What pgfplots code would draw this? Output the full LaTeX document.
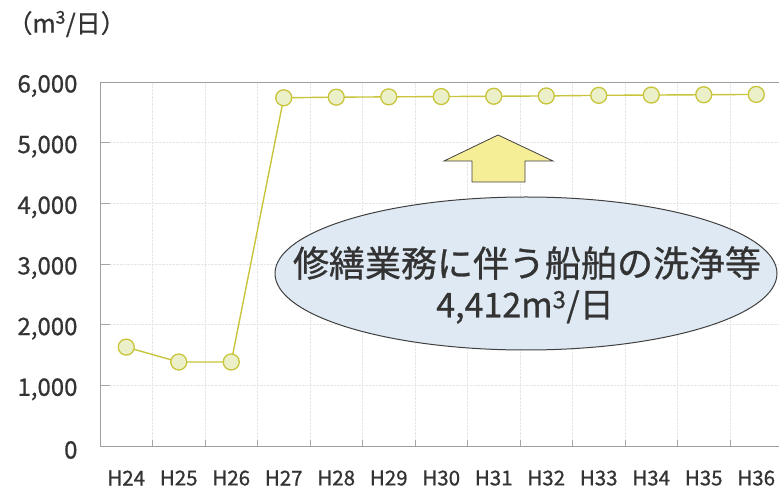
\documentclass[border=0pt]{standalone}
\usepackage{pgfplots}
\pgfplotsset{compat=1.18}
\usepackage{fontspec}
\setmainfont{Noto Sans CJK JP}
\newfontfamily\bfk{Noto Sans CJK JP}[FakeBold=0.8]
\definecolor{lineol}{RGB}{200,196,60}
\definecolor{mfill}{RGB}{236,240,200}
\definecolor{ellfill}{RGB}{222,233,243}
\definecolor{arrfill}{RGB}{246,238,150}
\begin{document}
\begin{tikzpicture}[x=1pt,y=1pt]
\useasboundingbox (0,0) rectangle (779,490);
\begin{axis}[
  at={(100pt,44pt)}, anchor=south west, scale only axis,
  width=682.5pt, height=364pt,
  xmin=-0.5, xmax=12.5, ymin=0, ymax=6000,
  axis line style={gray!75, line width=0.6pt},
  xtick={0,...,12},
  xticklabels={H24,H25,H26,H27,H28,H29,H30,H31,H32,H33,H34,H35,H36},
  major x tick style={draw=none},
  minor xtick={-0.5,0.5,1.5,2.5,3.5,4.5,5.5,6.5,7.5,8.5,9.5,10.5,11.5,12.5},
  minor tick length=6pt,
  major tick length=10pt,
  xminorgrids, ymajorgrids,
  minor grid style={densely dotted, gray!20},
  major grid style={densely dotted, gray!20},
  tick align=inside, xtick pos=bottom, ytick pos=left,
  tick style={gray!70, line width=0.6pt},
  ytick={0,1000,2000,3000,4000,5000,6000},
  scaled y ticks=false,
  /pgf/number format/.cd, 1000 sep={,}, assume math mode=true,
  /pgfplots/.cd,
  yticklabel style={font=\bfk\fontsize{24}{26}\selectfont, color=black!80, anchor=east, xshift=-19pt, yshift=-4pt},
  xticklabel style={font=\bfk\fontsize{20.5}{22}\selectfont, color=black!80, anchor=center, yshift=-32pt},
]
\addplot[color=lineol, line width=1.4pt, mark=*, mark size=8pt,
  mark options={fill=mfill, draw=lineol, line width=1.3pt}]
  coordinates {(0,1630) (1,1385) (2,1385) (3,5740) (4,5750) (5,5755) (6,5760) (7,5765) (8,5770) (9,5780) (10,5785) (11,5790) (12,5795)};
\end{axis}
\node[anchor=west, font=\bfk\fontsize{25}{28}\selectfont, color=black!80] at (4,466) {（m\textsuperscript{3}/日）};
\draw[black!75, line width=0.8pt, fill=arrfill] (498,355) -- (553,329) -- (525,329) -- (525,308) -- (472,308) -- (472,329) -- (444,329) -- cycle;
\draw[black!75, line width=1pt, fill=ellfill] (526,216.5) ellipse [x radius=251, y radius=76.5];
\node[font=\bfk\fontsize{36}{40}\selectfont, color=black!80] at (527,227) {修繕業務に伴う船舶の洗浄等};
\node[font=\bfk\fontsize{34}{38}\selectfont, color=black!80] at (525,183) {4,412m\textsuperscript{3}/日};
\end{tikzpicture}
\end{document}
